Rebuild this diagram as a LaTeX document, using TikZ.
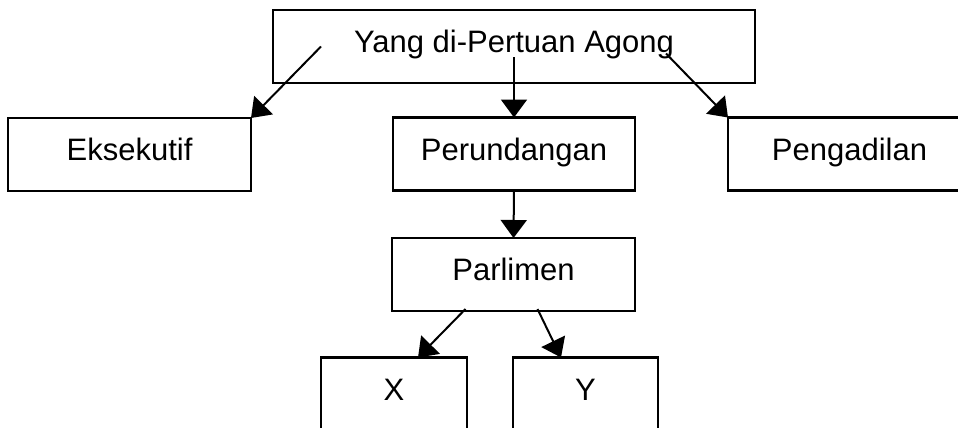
\documentclass[tikz,border=0pt]{standalone}
\usepackage{fontspec}
\setmainfont{Liberation Sans}
\usetikzlibrary{arrows.meta,calc}

\begin{document}
\begin{tikzpicture}[x=1pt, y=-1pt, >={Triangle[length=18pt,width=26pt]},
  kotak/.style={draw, line width=2.6pt, outer sep=0pt, inner sep=0pt,
    minimum height=73pt, text height=22pt, text depth=10pt,
    font=\fontsize{31}{36}\selectfont},
  panah/.style={->, line width=2pt}]
  \clip (0,0) rectangle (958,428);

  % top
  \node[kotak, minimum width=482pt] (yang) at (514,46.5) {Yang di-Pertuan Agong};
  % second row
  \node[kotak, minimum width=243pt] (eks) at (129.5,154.5) {Eksekutif};
  \node[kotak, minimum width=242pt] (per) at (514,154) {Perundangan};
  \node[kotak, minimum width=243pt] (pen) at (849.5,154) {Pengadilan};
  % parliament
  \node[kotak, minimum width=243pt] (par) at (513.5,274.5) {Parlimen};
  \node[kotak, minimum width=146pt] (x) at (394,394) {X};
  \node[kotak, minimum width=145pt] (y) at (585.5,394) {Y};

  \draw[panah] ($(yang.west)+(48,0)$) -- (eks.north east);
  \draw[panah] ($(yang.center)+(0,11)$) -- (per.north);
  \draw[panah] ($(yang.east)+(-89,7)$) -- (pen.north west);
  \draw[panah] (per.south) -- (par.north);
  \draw[panah] ($(par.south)+(-48,-2)$) -- ($(x.north)+(24,0)$);
  \draw[panah] ($(par.south)+(24,-2)$) -- ($(y.north)+(-24.5,0)$);

\end{tikzpicture}
\end{document}
